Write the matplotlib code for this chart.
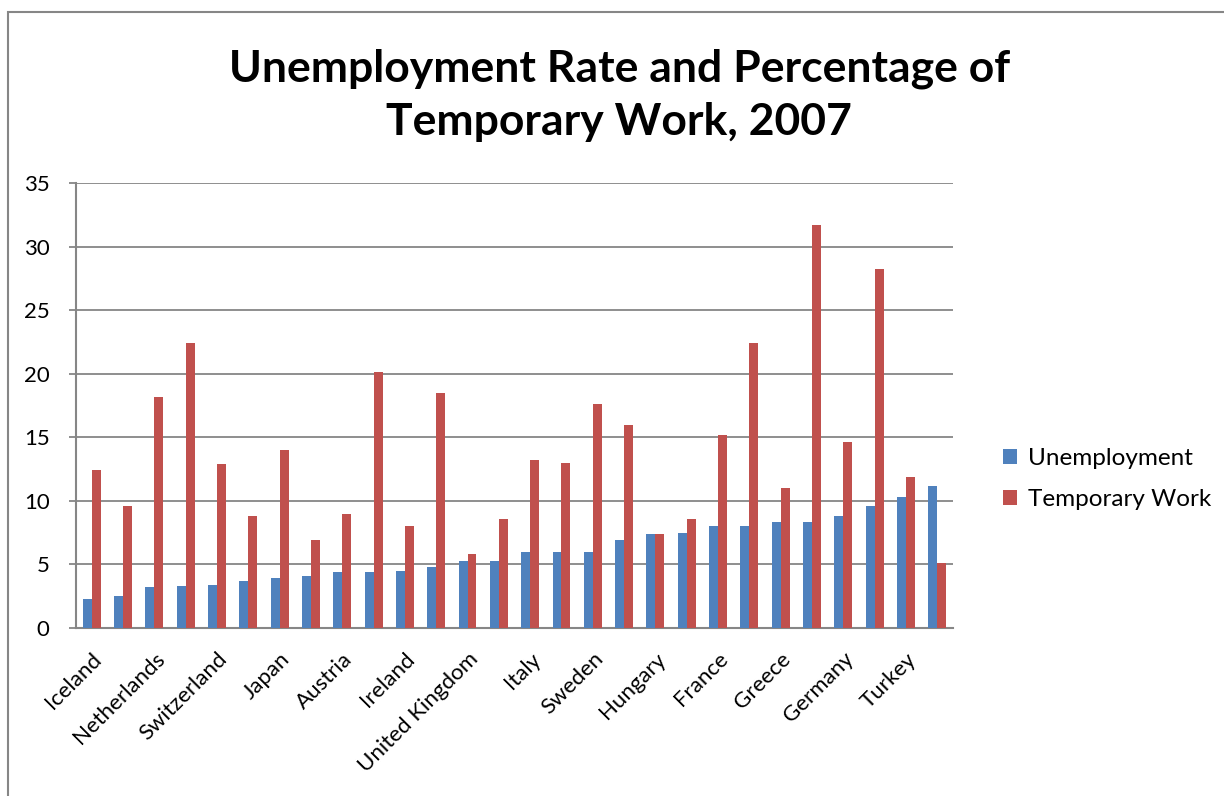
import matplotlib.pyplot as plt
from matplotlib.patches import Rectangle
import numpy as np

# data, sorted by unemployment rate (every other country is labelled)
countries = ['Iceland', 'Norway', 'Netherlands', 'Korea', 'Switzerland', 'Denmark',
             'Japan', 'Luxembourg', 'Austria', 'Mexico', 'Ireland', 'Slovenia',
             'United Kingdom', 'Czech Republic', 'Italy', 'Canada', 'Sweden', 'Finland',
             'Hungary', 'Belgium', 'France', 'Portugal', 'Greece', 'Spain',
             'Germany', 'Poland', 'Turkey', 'Slovak Republic']
unemployment = [2.3, 2.5, 3.2, 3.3, 3.4, 3.7, 3.9, 4.1, 4.4, 4.4, 4.5, 4.8,
                5.3, 5.3, 6.0, 6.0, 6.0, 6.9, 7.4, 7.5, 8.0, 8.0, 8.3, 8.3,
                8.8, 9.6, 10.3, 11.2]
temporary = [12.4, 9.6, 18.2, 22.4, 12.9, 8.8, 14.0, 6.9, 9.0, 20.1, 8.0, 18.5,
             5.8, 8.6, 13.2, 13.0, 17.6, 16.0, 7.4, 8.6, 15.2, 22.4, 11.0, 31.7,
             14.6, 28.2, 11.9, 5.1]
yticks = [0, 5, 10, 15, 20, 25, 30, 35]

plt.rcParams['font.family'] = ['Lato', 'DejaVu Sans']

fig = plt.figure(figsize=(12.24, 7.96), dpi=100)
ax = fig.add_axes([76 / 1224, 1 - 628 / 796, 877 / 1224, 445 / 796])

# outer chart frame
fig.patches.append(Rectangle((8 / 1224, -0.05), 1.1, 1 - 12 / 796 + 0.05,
                             transform=fig.transFigure, fill=False,
                             edgecolor='#868686', linewidth=1.5, clip_on=False))

x = np.arange(len(countries))
w = 1 / 3.5
ax.bar(x - w / 2, unemployment, w, color='#4F81BD', label='Unemployment', zorder=3)
ax.bar(x + w / 2, temporary, w, color='#C0504D', label='Temporary Work', zorder=3)

ax.set_xlim(-0.5, len(countries) - 0.5)
ax.set_ylim(0, 35)
ax.set_yticks(yticks)
ax.yaxis.grid(True, color='#868686', linewidth=1.3, zorder=0)
ax.set_axisbelow(True)
for s in ['top', 'right']:
    ax.spines[s].set_visible(False)
for s in ['left', 'bottom']:
    ax.spines[s].set_color('#868686')
    ax.spines[s].set_linewidth(1.5)
ax.tick_params(axis='y', length=5, color='#868686', width=1.3, labelsize=16, pad=14)

ax.set_xticks(x[::2])
ax.set_xticklabels(countries[::2], rotation=45, ha='right', rotation_mode='anchor', fontsize=16)
ax.tick_params(axis='x', length=0, pad=15)

fig.text(0.506, 1 - 95 / 796, 'Unemployment Rate and Percentage of\nTemporary Work, 2007',
         ha='center', va='center', fontsize=32, fontweight='bold', linespacing=1.38)

fig.legend(loc='center left', bbox_to_anchor=(993 / 1224, 1 - 479 / 796), frameon=False,
           borderaxespad=0, fontsize=17.5, handlelength=0.58, handleheight=0.58,
           labelspacing=0.85, handletextpad=0.45)

fig.savefig('out.png', dpi=100)
